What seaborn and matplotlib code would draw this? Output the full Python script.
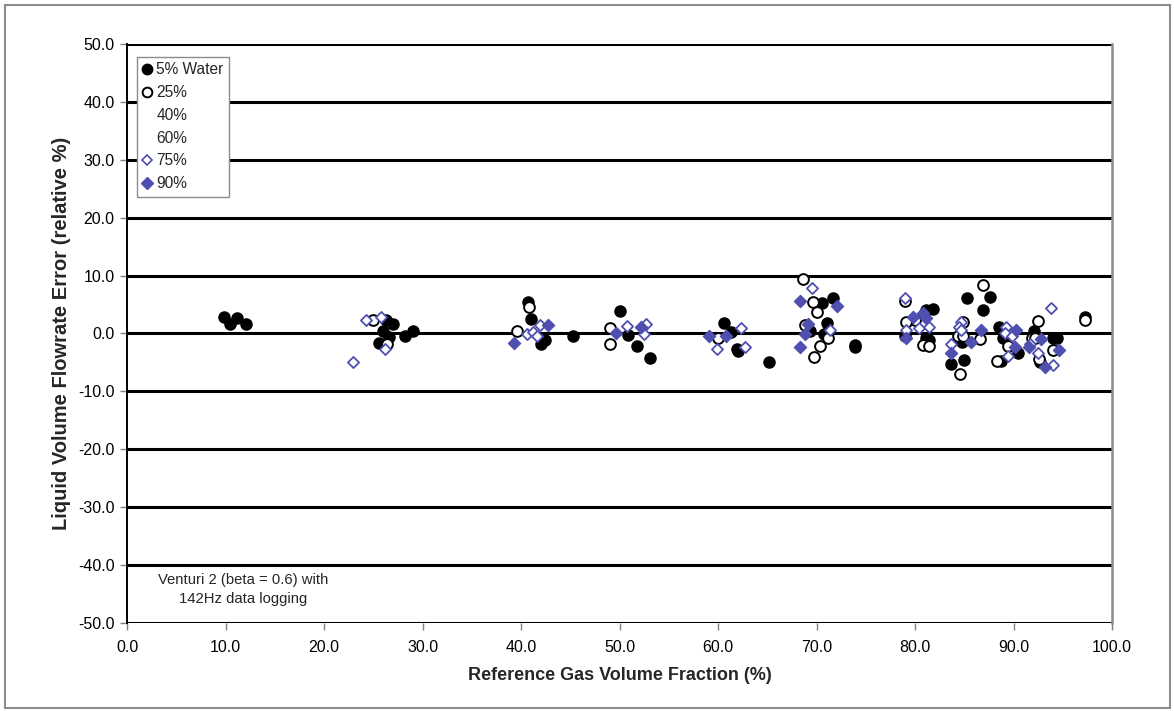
import matplotlib
matplotlib.use("Agg")
import matplotlib.pyplot as plt
import seaborn as sns
import pandas as pd
from matplotlib.lines import Line2D
from matplotlib.patches import Rectangle

# ---- data ----
w5_x = [9.8, 10.5, 11.2, 12.1, 26.3, 27.0, 26.0, 26.6, 25.6, 28.2, 29.0,
        40.7, 41.0, 42.0, 42.4, 45.3, 50.0, 50.9, 51.8, 53.1,
        60.6, 61.3, 61.9, 62.0, 65.2, 70.6, 71.7, 71.1, 69.3, 70.8, 73.9, 73.9,
        85.3, 87.6, 86.9, 81.1, 81.8, 79.0, 81.1, 81.4, 84.8, 83.7, 85.0,
        88.5, 88.9, 88.7, 90.5, 92.1, 94.0, 94.4, 92.7, 97.3]
w5_y = [2.8, 1.6, 2.7, 1.6, 2.4, 1.6, 0.5, -0.6, -1.7, -0.4, 0.5,
        5.4, 2.5, -1.9, -1.2, -0.5, 3.8, -0.3, -2.1, -4.2,
        1.8, 0.2, -2.7, -3.0, -4.9, 5.2, 6.1, 1.8, 0.4, -0.1, -2.0, -2.4,
        6.1, 6.3, 4.1, 4.1, 4.2, -0.5, -0.8, -1.1, -1.5, -5.3, -4.6,
        1.1, -0.8, -4.7, -3.4, 0.5, -0.7, -0.7, -5.0, 2.8]

w25_x = [25.0, 26.4, 39.6, 40.8, 49.0, 49.0, 60.0, 68.6, 69.6, 70.0, 68.8,
         71.2, 70.4, 69.7, 79.0, 86.9, 80.0, 79.1, 80.8, 81.4, 84.9, 84.4,
         84.9, 84.6, 86.6, 89.4, 88.3, 92.5, 91.9, 92.2, 94.0, 92.6, 97.3]
w25_y = [2.4, -1.9, 0.5, 4.6, 1.0, -1.9, -0.7, 9.4, 5.5, 3.7, 1.5,
         -0.8, -2.2, -4.0, 5.6, 8.4, 2.3, 1.9, -2.0, -2.2, 1.9, -0.5,
         -0.5, -7.0, -0.9, -2.1, -4.7, 2.2, -0.8, -0.7, -2.8, -4.4, 2.3]

w75_x = [22.9, 24.3, 25.8, 26.2, 40.6, 41.2, 41.6, 41.9, 50.8, 52.7, 52.5,
         59.9, 62.3, 62.7, 69.5, 71.4, 79.0, 79.1, 80.4, 81.4, 84.7, 84.5,
         84.7, 83.7, 89.2, 89.1, 89.8, 89.4, 93.8, 91.7, 92.5, 94.0]
w75_y = [-4.9, 2.3, 2.9, -2.6, -0.1, 0.3, -0.4, 1.5, 1.3, 1.6, -0.1,
         -2.6, 0.9, -2.3, 7.8, 0.6, 6.1, 0.6, 0.9, 1.2, 2.0, 1.2,
         0.6, -1.9, 1.1, 0.0, -0.5, -3.9, 4.4, -1.9, -3.4, -5.4]

w90_x = [39.3, 42.7, 49.6, 52.2, 59.1, 60.8, 68.3, 72.1, 69.1, 68.8, 68.3,
         80.8, 81.1, 79.8, 79.1, 83.7, 86.7, 85.7, 90.3, 90.2, 92.8, 91.6,
         94.6, 93.2]
w90_y = [-1.6, 1.5, 0.1, 1.2, -0.5, -0.5, 5.6, 4.8, 1.6, -0.1, -2.4,
         3.5, 2.6, 2.8, -0.8, -3.4, 0.6, -1.4, 0.6, -2.4, -1.0, -2.3,
         -2.8, -5.8]

legend_labels = ["5% Water", "25%", "40%", "60%", "75%", "90%"]
y_ticks = [-50, -40, -30, -20, -10, 0, 10, 20, 30, 40, 50]
x_ticks = [0, 10, 20, 30, 40, 50, 60, 70, 80, 90, 100]

BLUE = "#4F4FB0"

sns.set_theme(style="white")
plt.rcParams["font.family"] = ["Liberation Sans", "DejaVu Sans"]

fig = plt.figure(figsize=(11.74, 7.11), dpi=100)
ax = fig.add_axes([0.1082, 0.1238, 0.8390, 0.8143])

# outer gray border of the figure
fig.patches.append(Rectangle((0.004, 0.004), 0.993, 0.989, transform=fig.transFigure,
                             fill=False, edgecolor="#8c8c8c", linewidth=1.5, zorder=0))

# gridlines
for yv in y_ticks:
    ax.axhline(yv, color="black", linewidth=2.2, zorder=1)

sns.scatterplot(x=w5_x, y=w5_y, ax=ax, marker="o", s=64, facecolor="black",
                edgecolor="black", linewidth=1.0, zorder=3, legend=False)
sns.scatterplot(x=w25_x, y=w25_y, ax=ax, marker="o", s=60, facecolor="white",
                edgecolor="black", linewidth=1.4, zorder=3, legend=False)
sns.scatterplot(x=w75_x, y=w75_y, ax=ax, marker="D", s=32, facecolor="white",
                edgecolor=BLUE, linewidth=1.3, zorder=3, legend=False)
sns.scatterplot(x=w90_x, y=w90_y, ax=ax, marker="D", s=38, facecolor=BLUE,
                edgecolor=BLUE, linewidth=1.0, zorder=3, legend=False)

ax.set_xlim(0, 100)
ax.set_ylim(-50, 50)
ax.set_xticks(x_ticks)
ax.set_yticks(y_ticks)
ax.set_xticklabels([f"{v:.1f}" for v in x_ticks], fontsize=11.5)
ax.set_yticklabels([f"{v:.1f}" for v in y_ticks], fontsize=11.5)
ax.tick_params(axis="both", which="major", direction="out", length=5, width=1,
               color="#808080", labelcolor="black", bottom=True, left=True)
ax.tick_params(axis="x", pad=7)
ax.tick_params(axis="y", pad=4)

ax.set_xlabel("Reference Gas Volume Fraction (%)", fontsize=13, fontweight="bold", labelpad=9)
ax.set_ylabel("Liquid Volume Flowrate Error (relative %)", fontsize=14.5, fontweight="bold", labelpad=5)

for side in ["top", "bottom"]:
    ax.spines[side].set_visible(False)
ax.spines["left"].set_color("black")
ax.spines["left"].set_linewidth(1.4)
ax.spines["right"].set_color("#8c8c8c")
ax.spines["right"].set_linewidth(1.8)

ax.text(11.8, -44.2, "Venturi 2 (beta = 0.6) with\n142Hz data logging", ha="center",
        va="center", fontsize=10.7, linespacing=1.4)

handles = [
    Line2D([], [], linestyle="none", marker="o", markersize=7.5, markerfacecolor="black",
           markeredgecolor="black"),
    Line2D([], [], linestyle="none", marker="o", markersize=7, markerfacecolor="white",
           markeredgecolor="black", markeredgewidth=1.4),
    Line2D([], [], linestyle="none", marker="o", markersize=6, markerfacecolor="none",
           markeredgecolor="none"),
    Line2D([], [], linestyle="none", marker="o", markersize=6, markerfacecolor="none",
           markeredgecolor="none"),
    Line2D([], [], linestyle="none", marker="D", markersize=5.5, markerfacecolor="white",
           markeredgecolor=BLUE, markeredgewidth=1.2),
    Line2D([], [], linestyle="none", marker="D", markersize=6, markerfacecolor=BLUE,
           markeredgecolor=BLUE),
]
leg = ax.legend(handles, legend_labels, loc="upper left", bbox_to_anchor=(0.010, 0.978),
                fontsize=11.2, frameon=True, fancybox=False, framealpha=1,
                edgecolor="#8c8c8c", borderpad=0.35, labelspacing=0.5, handlelength=0.6,
                handletextpad=0.3, borderaxespad=0)
leg.get_frame().set_linewidth(1.0)
leg.set_zorder(5)

fig.savefig("out.png", dpi=100)
